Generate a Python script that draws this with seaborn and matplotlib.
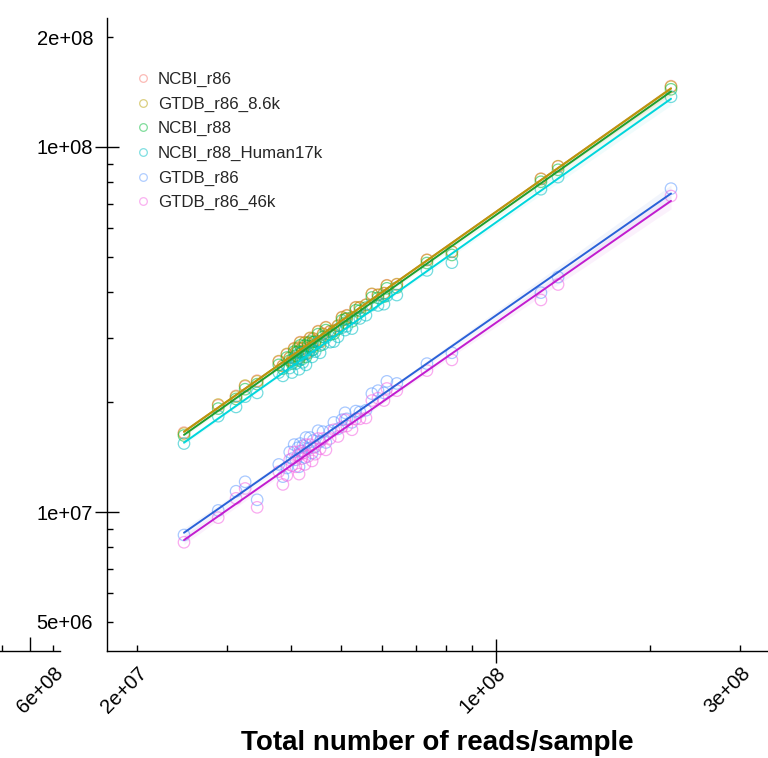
import numpy as np
import pandas as pd
import matplotlib
matplotlib.use("Agg")
import matplotlib.pyplot as plt
import seaborn as sns
from matplotlib.lines import Line2D
from matplotlib.ticker import FixedLocator, FixedFormatter, NullFormatter

sns.set_theme(style="white")
plt.rcParams['font.family'] = ['Liberation Sans', 'DejaVu Sans']

databases = ["NCBI_r86", "GTDB_r86_8.6k", "NCBI_r88", "NCBI_r88_Human17k", "GTDB_r86", "GTDB_r86_46k"]
point_colors = ["#F8766D", "#B79F00", "#00BA38", "#00BFC4", "#619CFF", "#F564E3"]
line_colors = ["#E8843C", "#B8980C", "#1E9E2E", "#00D6DC", "#2A60D8", "#C21CCF"]

# total reads per sample (millions)
total_reads_M = [24.7, 28.8, 31.2, 32.5, 34.3, 37.8, 38.5, 39.2, 39.7, 40.1, 40.5, 40.8,
                 41.2, 41.4, 41.6, 41.9, 42.1, 42.5, 42.7, 43.1, 43.5, 43.9, 44.1, 44.5,
                 45.1, 45.5, 46.1, 46.7, 47.6, 48.4, 49.3, 50.2, 50.9, 51.3, 52.5, 53.4,
                 54.4, 55.9, 57.4, 59.0, 60.6, 61.4, 64.2, 73.5, 82.2, 122.6, 132.4, 219.8]

# classified reads per sample (millions), per database
ncbi_r86_M = [16.5, 19.6, 20.8, 22.1, 22.9, 25.8, 25.2, 27.0, 26.5, 26.0, 28.1, 27.3,
              28.1, 26.5, 29.2, 28.0, 27.5, 29.2, 27.1, 29.1, 29.9, 28.4, 29.8, 29.4,
              31.3, 29.2, 30.8, 32.1, 31.2, 31.4, 32.3, 34.2, 33.7, 34.6, 34.0, 36.4,
              36.3, 37.0, 39.5, 39.4, 39.7, 41.8, 42.0, 49.1, 51.6, 81.9, 88.4, 146.8]
gtdb_r86_8k_M = [16.4, 19.7, 20.7, 22.2, 22.8, 25.9, 25.1, 27.1, 26.4, 26.1, 28.0, 27.4,
                 28.2, 26.4, 29.1, 28.1, 27.6, 29.1, 27.2, 29.0, 30.0, 28.3, 29.9, 29.3,
                 31.2, 29.3, 30.7, 32.0, 31.3, 31.3, 32.4, 34.1, 33.8, 34.5, 34.1, 36.3,
                 36.4, 36.9, 39.6, 39.3, 39.8, 41.7, 42.1, 49.0, 51.7, 81.7, 88.6, 146.2]
ncbi_r88_M = [16.2, 19.2, 20.4, 21.7, 22.4, 25.3, 24.7, 26.5, 26.0, 25.5, 27.5, 26.8,
              27.5, 26.0, 28.6, 27.4, 27.0, 28.6, 26.6, 28.5, 29.3, 27.8, 29.2, 28.8,
              30.7, 28.6, 30.2, 31.5, 30.6, 30.8, 31.7, 33.5, 33.0, 33.9, 33.3, 35.7,
              35.6, 36.3, 38.7, 38.6, 38.9, 41.0, 41.2, 48.1, 50.6, 80.3, 86.6, 143.9]
ncbi_r88_human_M = [15.4, 18.3, 19.4, 20.7, 21.2, 24.1, 23.6, 25.2, 24.8, 24.1, 26.3, 25.5,
                    26.2, 24.6, 27.3, 26.2, 25.7, 27.3, 25.3, 27.2, 27.9, 26.6, 27.8, 27.5,
                    29.2, 27.3, 28.8, 30.0, 29.2, 29.3, 30.2, 32.0, 31.5, 32.3, 31.8, 34.0,
                    33.9, 34.6, 36.9, 36.8, 37.1, 39.1, 39.3, 45.9, 48.2, 76.6, 82.7, 137.3]
gtdb_r86_M = [8.65, 10.1, 11.4, 12.1, 10.8, 13.5, 12.5, 13.2, 14.6, 14.0, 15.3, 13.9,
              15.0, 13.3, 15.4, 14.7, 15.2, 14.1, 16.0, 14.9, 16.0, 14.5, 15.7, 15.1,
              16.7, 15.6, 16.6, 15.5, 16.7, 17.6, 16.9, 17.9, 18.7, 18.0, 17.6, 18.9,
              18.8, 19.0, 21.1, 21.5, 21.2, 22.8, 22.5, 25.5, 27.3, 39.9, 44.0, 76.9]
gtdb_r86_46k_M = [8.26, 9.65, 10.9, 11.6, 10.3, 12.9, 11.9, 12.6, 13.9, 13.4, 14.6, 13.3,
                  14.3, 12.7, 14.7, 14.0, 14.5, 13.5, 15.3, 14.2, 15.3, 13.8, 15.0, 14.4,
                  15.9, 14.9, 15.9, 14.8, 15.9, 16.8, 16.1, 17.1, 17.9, 17.2, 16.8, 18.0,
                  18.0, 18.1, 20.2, 20.5, 20.2, 21.8, 21.5, 24.4, 26.1, 38.1, 42.0, 73.4]

series = [ncbi_r86_M, gtdb_r86_8k_M, ncbi_r88_M, ncbi_r88_human_M, gtdb_r86_M, gtdb_r86_46k_M]

# axis tick values
x_major = [1e8]
x_major_labels = ["1e+08"]
x_minor = [2e7, 3e7, 4e7, 5e7, 6e7, 7e7, 8e7, 9e7, 2e8, 3e8]
x_minor_labels = ["2e+07", "", "", "", "", "", "", "", "", "3e+08"]
y_major = [1e7, 1e8]
y_major_labels = ["1e+07", "1e+08"]
y_minor = [5e6, 6e6, 7e6, 8e6, 9e6, 2e7, 3e7, 4e7, 5e7, 6e7, 7e7, 8e7, 9e7, 2e8]
y_minor_labels = ["5e+06", "", "", "", "", "", "", "", "", "", "", "", "", "2e+08"]

rows = []
for db, vals in zip(databases, series):
    for xr, yv in zip(total_reads_M, vals):
        rows.append({"database": db,
                     "log_reads": np.log10(xr * 1e6),
                     "log_class": np.log10(yv * 1e6)})
df = pd.DataFrame(rows)

fig = plt.figure(figsize=(7.68, 7.58), dpi=100)
ax = fig.add_axes([107/768, 107/758, 661/768, 633/758])

sns.scatterplot(data=df, x="log_reads", y="log_class", hue="database",
                hue_order=databases, palette=point_colors, s=68, alpha=0.55,
                linewidth=0.9, legend=False, ax=ax)
coll = ax.collections[0]
fcs = coll.get_facecolors()
coll.set_edgecolors(fcs)
coll.set_facecolors("none")

n_before = len(ax.collections)
for db, lc in zip(databases, line_colors):
    sub = df[df["database"] == db]
    sns.regplot(data=sub, x="log_reads", y="log_class", scatter=False, ci=95,
                color=lc, line_kws={"lw": 1.4}, ax=ax, truncate=True)
for c in ax.collections[n_before:]:
    c.set_alpha(0.06)

ax.set_xlim(7.2426, 8.5311)
ax.set_ylim(6.6192, 8.3534)

for s in ["top", "right"]:
    ax.spines[s].set_visible(False)
for s in ["left", "bottom"]:
    ax.spines[s].set_color("black")
    ax.spines[s].set_linewidth(1.0)

ax.xaxis.set_major_locator(FixedLocator(np.log10(x_major)))
ax.xaxis.set_major_formatter(FixedFormatter(x_major_labels))
ax.xaxis.set_minor_locator(FixedLocator(np.log10(x_minor)))
ax.xaxis.set_minor_formatter(FixedFormatter(x_minor_labels))
ax.yaxis.set_major_locator(FixedLocator(np.log10(y_major)))
ax.yaxis.set_major_formatter(FixedFormatter(y_major_labels))
ax.yaxis.set_minor_locator(FixedLocator(np.log10(y_minor)))
ax.yaxis.set_minor_formatter(FixedFormatter(y_minor_labels))

ax.tick_params(axis="both", which="major", direction="inout", length=17,
               width=1.0, color="black", labelsize=14.5, labelcolor="black")
ax.tick_params(axis="both", which="minor", direction="in", length=4,
               width=1.0, color="black", labelsize=14.5, labelcolor="black")
ax.tick_params(axis="y", which="major", pad=1.5)
ax.tick_params(axis="y", which="minor", pad=10)
ax.tick_params(axis="x", which="major", pad=0.5)
ax.tick_params(axis="x", which="minor", pad=9)
ax.tick_params(bottom=True, left=True, which="both")

for lbl in ax.get_xticklabels(which="both"):
    lbl.set_rotation(45)
    lbl.set_ha("right")
    lbl.set_rotation_mode("anchor")

ax.set_ylabel("")
ax.set_xlabel("Total number of reads/sample", fontsize=20, fontweight="bold", color="black")
ax.xaxis.set_label_coords(0.5, -0.146)
ax.xaxis.label.set_va("center")

handles = [Line2D([], [], linestyle="none", marker="o", markersize=5.5,
                  markerfacecolor="none", markeredgecolor=c, markeredgewidth=0.9,
                  alpha=0.5) for c in point_colors]
ax.legend(handles, databases, loc="upper left", bbox_to_anchor=(135/768, 1 - 72/758),
          bbox_transform=fig.transFigure, frameon=False, fontsize=12.2,
          handlelength=1.0, handletextpad=0.35, labelspacing=0.56,
          borderpad=0, borderaxespad=0)

# remnant axis of a neighbouring panel (left edge)
ax2 = fig.add_axes([0, 107/758, 60/768, 0.0001])
ax2.set_facecolor("none")
for s in ["top", "right", "left"]:
    ax2.spines[s].set_visible(False)
ax2.spines["bottom"].set_color("black")
ax2.spines["bottom"].set_linewidth(1.0)
ax2.set_xlim(8.5956, 8.8025)
ax2.set_yticks([])
ax2.xaxis.set_major_locator(FixedLocator([np.log10(5e8)]))
ax2.xaxis.set_major_formatter(NullFormatter())
ax2.xaxis.set_minor_locator(FixedLocator(np.log10([4e8, 6e8])))
ax2.xaxis.set_minor_formatter(FixedFormatter(["", "6e+08"]))
ax2.tick_params(axis="x", which="major", direction="in", length=10, width=1.0, color="black")
ax2.tick_params(axis="x", which="minor", direction="in", length=4, width=1.0,
                color="black", labelsize=14.5, labelcolor="black", pad=9)
ax2.tick_params(bottom=True, which="both")
for lbl in ax2.get_xticklabels(which="both"):
    lbl.set_rotation(45)
    lbl.set_ha("right")
    lbl.set_rotation_mode("anchor")

fig.savefig("out.png", dpi=100)
